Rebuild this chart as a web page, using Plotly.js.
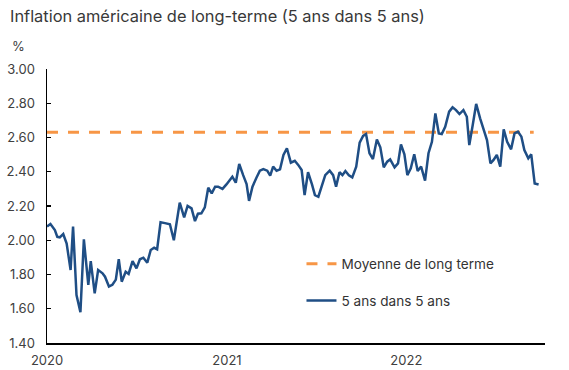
<!DOCTYPE html>
<html>
<head>
<meta charset="utf-8">
<script src="https://cdn.plot.ly/plotly-3.0.1.min.js"></script>
<style>
  html, body { margin: 0; padding: 0; background: #ffffff; }
  #chart { width: 569px; height: 370px; }
</style>
</head>
<body>
<div id="chart"></div>
<script>
// Series: 5 ans dans 5 ans (weekly, %)
const dates = [
  '2020-01-01','2020-01-08','2020-01-17','2020-01-22','2020-01-27','2020-02-03','2020-02-10','2020-02-18',
  '2020-02-23','2020-03-01','2020-03-09','2020-03-16','2020-03-25','2020-03-30','2020-04-07','2020-04-14',
  '2020-04-23','2020-04-28','2020-05-06','2020-05-13','2020-05-20','2020-05-26','2020-06-01','2020-06-09',
  '2020-06-15','2020-06-23','2020-07-01','2020-07-08','2020-07-15','2020-07-23','2020-07-30','2020-08-06',
  '2020-08-12','2020-08-19','2020-08-28','2020-09-07','2020-09-15','2020-09-27','2020-10-06','2020-10-13',
  '2020-10-21','2020-10-28','2020-11-03','2020-11-10','2020-11-17','2020-11-24','2020-12-01','2020-12-08',
  '2020-12-14','2020-12-23','2020-12-31','2021-01-07','2021-01-12','2021-01-19','2021-01-26','2021-02-03',
  '2021-02-10','2021-02-15','2021-02-22','2021-03-02','2021-03-09','2021-03-16','2021-03-24','2021-03-30',
  '2021-04-05','2021-04-12','2021-04-19','2021-04-26','2021-05-03','2021-05-11','2021-05-19','2021-05-26',
  '2021-06-02','2021-06-08','2021-06-15','2021-06-23','2021-06-29','2021-07-06','2021-07-12','2021-07-20',
  '2021-07-29','2021-08-05','2021-08-11','2021-08-18','2021-08-24','2021-08-30','2021-09-06','2021-09-13',
  '2021-09-21','2021-09-28','2021-10-05','2021-10-11','2021-10-18','2021-10-25','2021-11-02','2021-11-09',
  '2021-11-16','2021-11-23','2021-11-29','2021-12-08','2021-12-15','2021-12-21','2021-12-28','2022-01-03',
  '2022-01-10','2022-01-17','2022-01-24','2022-01-31','2022-02-08','2022-02-15','2022-02-22','2022-03-01',
  '2022-03-08','2022-03-14','2022-03-21','2022-03-29','2022-04-05','2022-04-12','2022-04-19','2022-04-27',
  '2022-05-04','2022-05-09','2022-05-16','2022-05-23','2022-05-31','2022-06-07','2022-06-14','2022-06-21',
  '2022-06-27','2022-07-04','2022-07-11','2022-07-18','2022-07-25','2022-08-02','2022-08-09','2022-08-16',
  '2022-08-23','2022-08-29','2022-09-06','2022-09-12','2022-09-19','2022-09-27'
];
const values = [
  2.08,2.095,2.06,2.02,2.017,2.036,1.98,1.826,
  2.08,1.68,1.58,2.005,1.74,1.878,1.69,1.826,
  1.807,1.787,1.73,1.74,1.77,1.89,1.758,1.816,
  1.803,1.878,1.836,1.889,1.898,1.869,1.943,1.956,
  1.947,2.105,2.10,2.093,2.0,2.22,2.134,2.2,
  2.186,2.112,2.155,2.157,2.192,2.307,2.274,2.313,
  2.313,2.30,2.326,2.352,2.371,2.336,2.445,2.38,
  2.328,2.23,2.313,2.365,2.406,2.416,2.406,2.377,
  2.43,2.406,2.414,2.498,2.537,2.453,2.464,2.44,
  2.41,2.264,2.397,2.326,2.264,2.254,2.303,2.38,
  2.406,2.38,2.313,2.397,2.38,2.404,2.38,2.367,
  2.43,2.57,2.609,2.62,2.508,2.474,2.589,2.543,
  2.426,2.459,2.472,2.426,2.449,2.56,2.502,2.38,
  2.42,2.502,2.404,2.43,2.348,2.508,2.575,2.741,
  2.624,2.62,2.663,2.751,2.776,2.76,2.737,2.76,
  2.721,2.556,2.673,2.796,2.712,2.654,2.585,2.449,
  2.468,2.498,2.43,2.648,2.575,2.531,2.624,2.634,
  2.605,2.527,2.478,2.502,2.332,2.326
];
// Long-term average (%)
const averageValue = 2.63;
const averageDates = ['2020-01-01', '2022-09-17'];
const averageValues = [averageValue, averageValue];

const yTicks = [1.4, 1.6, 1.8, 2.0, 2.2, 2.4, 2.6, 2.8, 3.0];
const xTicks = ['2020-01-01', '2021-01-01', '2022-01-01'];
const xTickLabels = ['2020', '2021', '2022'];

const traces = [
  {
    x: averageDates, y: averageValues, type: 'scatter', mode: 'lines',
    name: 'Moyenne de long terme', legendgroup: 'a', legendrank: 1,
    line: { color: '#F79646', width: 3, dash: '11px,10px' },
    hoverinfo: 'skip'
  },
  {
    x: dates, y: values, type: 'scatter', mode: 'lines',
    name: '5 ans dans 5 ans', legendgroup: 'b', legendrank: 2,
    line: { color: '#1F4E85', width: 2.5 }
  }
];

const layout = {
  width: 569, height: 370,
  margin: { l: 47, r: 24, t: 69, b: 27, pad: 0 },
  paper_bgcolor: '#ffffff', plot_bgcolor: '#ffffff',
  font: { family: 'Inter, "Noto Sans", sans-serif', size: 13, color: '#404040' },
  title: {
    text: 'Inflation américaine de long-terme (5 ans dans 5 ans)',
    x: 10 / 569, xanchor: 'left', xref: 'container',
    y: 0.957, yanchor: 'middle', yref: 'container',
    font: { family: 'Inter, "Noto Sans", sans-serif', size: 16.4, color: '#383838' },
    pad: { l: 0, t: 0 }
  },
  showlegend: true,
  legend: {
    x: 0.511, xanchor: 'left', y: 0.345, yanchor: 'top',
    bgcolor: 'rgba(0,0,0,0)', borderwidth: 0,
    traceorder: 'grouped', tracegroupgap: 16,
    font: { size: 13.6, color: '#333333' }
  },
  xaxis: {
    type: 'date',
    range: ['2020-01-01', '2022-10-10'],
    tickmode: 'array', tickvals: xTicks, ticktext: xTickLabels,
    ticks: '', showgrid: false, zeroline: false,
    showline: true, linecolor: '#000000', linewidth: 1.5,
    tickfont: { size: 13, color: '#404040' },
    ticklabelstandoff: 5,
    fixedrange: true
  },
  yaxis: {
    range: [1.4, 3.0],
    tickmode: 'array', tickvals: yTicks,
    tickformat: '.2f',
    ticks: 'inside', ticklen: 4, tickwidth: 1.2, tickcolor: '#000000',
    showgrid: false, zeroline: false,
    showline: true, linecolor: '#000000', linewidth: 1.5,
    tickfont: { size: 13, color: '#404040' },
    ticklabelstandoff: 8,
    fixedrange: true
  },
  annotations: [
    {
      text: '%', xref: 'paper', yref: 'paper',
      x: -0.075, y: 1.085, xanchor: 'left', yanchor: 'middle',
      showarrow: false, font: { size: 13, color: '#404040' }
    }
  ]
};

Plotly.newPlot('chart', traces, layout, { displayModeBar: false, staticPlot: true });
</script>
</body>
</html>
